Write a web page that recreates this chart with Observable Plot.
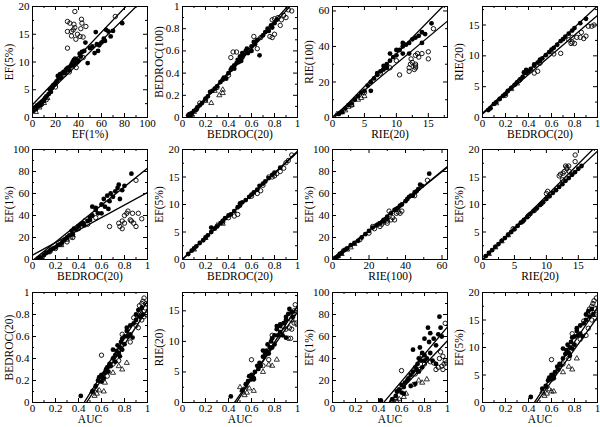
<!DOCTYPE html>
<html><head><meta charset="utf-8">
<script src="https://cdn.jsdelivr.net/npm/d3@7"></script>
<script src="https://cdn.jsdelivr.net/npm/@observablehq/plot@0.6"></script>
<style>
body{margin:0;background:#fff}
#chart{position:relative;width:600px;height:427px;background:#fff;overflow:hidden}
.cell{position:absolute}
</style></head><body><div id="chart"></div>
<script>
// ---- axis labels and ranges ----
const xLabels = ["EF(1%)","BEDROC(20)","RIE(20)","BEDROC(20)","BEDROC(20)","BEDROC(20)","RIE(100)","RIE(20)","AUC","AUC","AUC","AUC"];
const yLabels = ["EF(5%)","BEDROC(100)","RIE(100)","RIE(20)","EF(1%)","EF(5%)","EF(1%)","EF(5%)","BEDROC(20)","RIE(20)","EF(1%)","EF(5%)"];
const xMax = [100,1,18,1,1,1,63,18,1,1,1,1];
const yMax = [20,1,62.5,18,100,20,100,20,1,18,100,20];
const xTickSet = ["t100","t1","t18","t1","t1","t1","t63","t18","t1","t1","t1","t1"];
const yTickSet = ["t20","t1","t63","t18","t100","t20","t100","t20","t1","t18","t100","t20"];
// ---- tick values ----
const t100 = [0,20,40,60,80,100], m100 = [10,30,50,70,90];
const t1 = [0,0.2,0.4,0.6,0.8,1], m1 = [0.1,0.3,0.5,0.7,0.9];
const t18 = [0,5,10,15], m18 = [2.5,7.5,12.5,17.5];
const t20 = [0,5,10,15,20], m20 = [2.5,7.5,12.5,17.5];
const t63 = [0,20,40,60], m63 = [10,30,50];

// ---- panel 1: EF(1%) vs EF(5%) ----
const p1Filled = [[1,1.2],[2,1.8],[3,1.5],[4,2.2],[5,2.0],[6,2.5],[7,2.2],[8,2.8],[10,3.0],[11,3.5],[12,3.8],[14,4.2],[15,5.0],[16,4.6],[17,5.3],[18,5.8],[20,6.0],[21,6.5],[22,7.5],[23,7.0],[24,7.8],[25,7.2],[26,8.0],[27,8.2],[28,8.0],[29,8.6],[30,8.8],[31,9.0],[32,8.5],[33,9.2],[34,9.6],[35,10.0],[35,9.4],[36,10.4],[37,9.8],[37,10.6],[38,10.2],[39,10.0],[40,10.3],[41,11.5],[42,11.0],[43,11.8],[45,12.0],[46,13.5],[48,9.8],[50,12.5],[52,12.8],[54,11.6],[55,15.4],[56,13.2],[57,12.0],[58,13.0],[60,13.5],[62,14.2],[63,13.8],[64,15.8],[66,15.5],[68,14.6],[70,15.6],[78,17.0]];
const p1Open = [[8,2.4],[12,3.2],[20,5.5],[28,7.8],[32,8.2],[38,9.0],[44,10.8],[36.8,19.1],[30.4,17.3],[32.5,17.0],[42.6,17.7],[43,17],[46.4,16.4],[42,16],[30.4,15.5],[33.9,15.5],[36.8,16.2],[35.4,15.8],[33.9,14.7],[39.1,15.0],[41.4,14.6],[37.7,14.1],[30.4,12.5],[72,18.2],[36,16.8],[44,14.5]];
const p1Tri = [[3,1.0],[6,1.8],[10,2.6],[13,3.5],[9,3.0]];
const p1Fits = [[2.3,0.218],[1.6,0.204]];

// ---- panel 2: BEDROC(20) vs BEDROC(100) ----
const p2Filled = [[0.05,0.02],[0.06,0.03],[0.07,0.01],[0.08,0.04],[0.1,0.06],[0.12,0.07],[0.13,0.09],[0.15,0.11],[0.17,0.13],[0.2,0.17],[0.22,0.19],[0.24,0.23],[0.26,0.24],[0.28,0.26],[0.3,0.28],[0.33,0.32],[0.35,0.34],[0.36,0.36],[0.38,0.35],[0.4,0.4],[0.42,0.43],[0.43,0.45],[0.45,0.47],[0.47,0.49],[0.48,0.52],[0.49,0.5],[0.5,0.53],[0.5,0.55],[0.51,0.51],[0.52,0.54],[0.53,0.57],[0.55,0.6],[0.56,0.62],[0.57,0.58],[0.6,0.64],[0.62,0.68],[0.63,0.66],[0.65,0.70],[0.67,0.56],[0.7,0.74],[0.72,0.77],[0.74,0.8],[0.75,0.78],[0.77,0.83],[0.78,0.81],[0.8,0.85],[0.82,0.88],[0.45,0.44],[0.52,0.58],[0.6,0.6]];
const p2Open = [[0.42,0.54],[0.44,0.59],[0.47,0.59],[0.62,0.73],[0.68,0.72],[0.65,0.62],[0.78,0.88],[0.8,0.89],[0.83,0.9],[0.86,0.88],[0.88,0.92],[0.9,0.9],[0.92,0.97],[0.95,0.96],[0.78,0.72],[0.8,0.75],[0.76,0.73],[0.85,0.83],[0.3,0.27],[0.2,0.16],[0.15,0.13],[0.4,0.38]];
const p2Tri = [[0.25,0.13],[0.32,0.2],[0.35,0.22],[0.35,0.25],[0.12,0.08],[0.2,0.15],[0.28,0.24],[0.08,0.03],[0.1,0.05]];
const p2Fits = [[-0.054,1.155],[-0.065,1.14]];

// ---- panel 3: RIE(20) vs RIE(100) ----
const p3Filled = [[1,2],[1.5,3],[2,5],[2.5,7],[3,8],[3.5,10],[4,12],[4.5,14],[5,15],[5.5,18],[6,15],[6,20],[6.5,22],[7,24],[7.5,26],[8,27],[8,29],[8.5,30],[9,32],[9,36],[9.5,34],[10,35],[10,38],[10.5,38],[11,40],[11,42],[11.5,41],[12,42],[12,36],[12.5,44],[13,45],[13.5,46],[14,48],[14.5,47],[15.5,53],[14,42],[11,36],[8.5,28],[7,25]];
const p3Open = [[10.5,24],[12,26],[12,28],[12.2,30],[12.3,33],[12.5,31],[12.8,27],[13,30],[13,35],[13,29],[13.3,36],[13.5,34],[14,36],[15,37],[15,33],[13,28],[15.8,50],[7.5,25],[9,28],[10,32],[5,14],[3,7]];
const p3Tri = [[2.5,6],[3,7],[4.5,11],[4,10],[5,12],[2,4],[1.5,3],[0.7,1.9]];
const p3Fits = [[-1,3.68],[0.3,3.0]];

// ---- panel 4: BEDROC(20) vs RIE(20) ----
const p4Filled = [[0.05,1.2],[0.07,1.5],[0.1,2.2],[0.12,2.5],[0.15,3],[0.18,3.5],[0.2,3.8],[0.22,4.3],[0.25,4.8],[0.28,5.3],[0.3,5.7],[0.33,6.2],[0.35,6.6],[0.38,7.2],[0.4,7.5],[0.42,7.9],[0.45,8.4],[0.48,8.9],[0.5,9.2],[0.52,9.6],[0.55,10.1],[0.58,10.6],[0.6,11],[0.62,11.3],[0.65,11.8],[0.68,12.4],[0.7,12.7],[0.72,13.1],[0.75,13.6],[0.78,14.1],[0.8,14.5],[0.85,15.3],[0.9,16],[0.5,9.4],[0.45,8.6],[0.36,7.3],[0.38,7.7]];
const p4Open = [[0.32,6],[0.45,7.2],[0.48,7.5],[0.62,10.3],[0.68,10.4],[0.77,12],[0.78,12.2],[0.8,12],[0.78,13],[0.82,13],[0.85,13],[0.86,13.8],[0.88,12.8],[0.9,13.2],[0.92,14.8],[0.95,14.8],[0.97,15],[0.75,12.6],[0.5,8.8],[0.2,3.6]];
const p4Tri = [[0.25,4.6],[0.3,5.5],[0.12,2.3]];
const p4Fits = [[0.7,17.4],[0.55,16.0]];

// ---- panel 5: BEDROC(20) vs EF(1%) ----
const p5Filled = [[0.05,1],[0.07,2],[0.08,0],[0.1,4],[0.12,6],[0.14,7],[0.16,9],[0.18,10],[0.2,11],[0.22,13],[0.24,14],[0.26,16],[0.28,18],[0.3,20],[0.32,22],[0.34,26],[0.35,23],[0.36,28],[0.38,27],[0.4,30],[0.42,32],[0.44,33],[0.45,31],[0.48,35],[0.5,38],[0.5,36],[0.52,40],[0.52,48],[0.55,45],[0.57,42],[0.6,50],[0.62,55],[0.63,48],[0.65,58],[0.67,53],[0.68,60],[0.7,57],[0.72,62],[0.74,65],[0.75,68],[0.76,55],[0.78,63],[0.8,67],[0.86,78],[0.55,47],[0.6,42],[0.66,46]];
const p5Open = [[0.67,30],[0.75,33],[0.76,30],[0.78,28],[0.78,35],[0.8,40],[0.8,33],[0.82,42],[0.83,44],[0.85,36],[0.86,35],[0.87,42],[0.88,33],[0.9,30],[0.92,42],[0.95,37],[0.9,72],[0.1,5],[0.15,7],[0.2,10],[0.25,14],[0.3,16],[0.35,20],[0.4,28],[0.48,32],[0.55,38]];
const p5Tri = [[0.3,18],[0.33,20],[0.35,22],[0.25,13],[0.15,8],[0.45,35]];
const p5Fits = [[-1,84],[4,57]];

// ---- panel 6: BEDROC(20) vs EF(5%) ----
const p6Filled = [[0.05,1],[0.08,1.6],[0.1,2],[0.12,2.4],[0.15,3],[0.18,3.5],[0.2,4],[0.22,4.4],[0.25,5],[0.25,5.8],[0.28,5.6],[0.3,6],[0.33,6.6],[0.35,7],[0.37,7.5],[0.4,8],[0.42,8.2],[0.45,8.8],[0.48,9.5],[0.5,9.8],[0.5,10.2],[0.52,10.4],[0.55,10.8],[0.58,11.4],[0.6,11.8],[0.62,12.2],[0.65,12.7],[0.67,13.4],[0.7,13.8],[0.72,14.2],[0.75,14.8],[0.78,15.4],[0.8,15.8],[0.85,16.7]];
const p6Open = [[0.35,6.8],[0.4,7.6],[0.45,7.9],[0.48,8.2],[0.6,11.5],[0.65,12],[0.68,12.5],[0.75,15],[0.8,15.2],[0.82,15.6],[0.85,16],[0.88,16.6],[0.9,17.6],[0.92,18],[0.95,19],[0.78,15],[0.7,13.5]];
const p6Tri = [[0.1,1.8],[0.2,3.9],[0.3,6.2],[0.35,6.5]];
const p6Fits = [[0,19.7],[0.1,19.4]];

// ---- panel 7: RIE(100) vs EF(1%) ----
const p7Filled = [[1,1],[2,2],[3,3],[4,5],[5,6],[6,8],[7,9],[8,10],[10,13],[12,15],[14,17],[16,20],[18,23],[20,26],[22,29],[24,31],[26,33],[28,36],[30,39],[32,42],[34,45],[36,47],[37,49],[38,50],[40,53],[41,55],[42,57],[43,58],[44,58],[45,61],[46,62],[47,64],[48,68],[49,67],[53,78],[28,35],[30,37],[35,46]];
const p7Open = [[22,30],[23,28],[25,32],[26,30],[27,32],[28,34],[30,35],[31,44],[32,36],[33,38],[34,36],[35,42],[36,43],[37,42],[38,44],[30,33],[52,72],[45,58],[20,24],[15,18]];
const p7Tri = [[3,3],[5,5],[8,9],[10,11],[12,14]];
const p7Fits = [[-0.5,1.34],[-1,1.36]];

// ---- panel 8: RIE(20) vs EF(5%) ----
const p8Filled = [[0.5,0.6],[1,1.2],[1.5,1.7],[2,2.3],[2.5,2.8],[3,3.4],[3.5,3.9],[4,4.5],[4.5,5],[5,5.5],[5.5,6.1],[6,6.7],[6.5,7.2],[7,7.7],[7.5,8.3],[8,8.8],[8.5,9.3],[9,9.9],[9.5,10.4],[10,11],[10.5,11.5],[11,12.1],[11.5,12.6],[12,13.2],[12.5,13.7],[13,14.3],[13.5,14.8],[14,15.4],[14.5,15.9],[15,16.5],[15.5,17],[9.2,10.1],[6.3,6.9]];
const p8Open = [[4.8,5.6],[7.2,8],[8.2,9],[10,12],[10.2,12.4],[12,15.2],[12.2,15.5],[12.5,14.5],[12.8,16],[13,17],[13.2,16.5],[13.5,17],[13.6,16],[14,15.5],[14.5,19],[14.5,17.8],[13.2,16.8],[12.6,15.7]];
const p8Tri = [[1,1],[2,2.2],[3,3.3],[4,4.4]];
const p8Fits = [[-0.1,1.165],[0,1.095]];

// ---- panel 9: AUC vs BEDROC(20) ----
const p9Filled = [[0.42,0.06],[0.52,0.1],[0.55,0.15],[0.57,0.2],[0.58,0.23],[0.6,0.25],[0.6,0.19],[0.62,0.22],[0.63,0.27],[0.65,0.32],[0.66,0.28],[0.67,0.35],[0.68,0.33],[0.7,0.4],[0.7,0.48],[0.72,0.43],[0.73,0.47],[0.74,0.52],[0.75,0.45],[0.76,0.5],[0.77,0.55],[0.78,0.48],[0.78,0.58],[0.8,0.6],[0.8,0.53],[0.82,0.65],[0.82,0.68],[0.83,0.6],[0.85,0.62],[0.85,0.7],[0.87,0.59],[0.88,0.72],[0.9,0.75],[0.9,0.8],[0.92,0.84],[0.93,0.78],[0.95,0.86],[0.96,0.8],[0.6,0.24],[0.64,0.3],[0.72,0.37],[0.76,0.42]];
const p9Open = [[0.6,0.43],[0.78,0.62],[0.88,0.77],[0.9,0.7],[0.92,0.68],[0.93,0.88],[0.95,0.9],[0.96,0.92],[0.97,0.95],[0.98,0.86],[0.99,0.9],[0.97,0.78],[0.99,0.8],[0.95,0.75],[0.94,0.82],[0.85,0.55],[0.7,0.35],[0.75,0.38],[0.65,0.24]];
const p9Tri = [[0.52,0.1],[0.55,0.12],[0.58,0.11],[0.62,0.1],[0.56,0.08],[0.54,0.06],[0.78,0.3],[0.82,0.36],[0.7,0.27],[0.75,0.33],[0.63,0.18]];
const p9Fits = [[-0.75,1.67],[-0.752,1.6]];

// ---- panel 10: AUC vs RIE(20) ----
const p10Filled = [[0.42,1],[0.52,2],[0.55,3],[0.57,3.5],[0.58,4.3],[0.6,4.5],[0.6,3.8],[0.62,4],[0.63,5],[0.65,6],[0.66,5.5],[0.67,6.5],[0.68,6],[0.7,7.5],[0.7,8.5],[0.72,8],[0.73,8.5],[0.74,9.5],[0.75,8],[0.76,9],[0.77,10],[0.78,9],[0.78,10.5],[0.8,11],[0.8,9.5],[0.82,12],[0.82,12.5],[0.83,11],[0.85,11.5],[0.85,12.8],[0.87,11],[0.88,13],[0.9,13.5],[0.9,14],[0.92,14.5],[0.93,15.3],[0.95,14.8],[0.96,14],[0.62,3.8],[0.85,12.5],[0.9,10.6]];
const p10Open = [[0.6,7],[0.78,11],[0.88,12.4],[0.9,12],[0.92,10.5],[0.93,12.2],[0.95,13.5],[0.96,14.5],[0.97,15],[0.98,16],[0.99,15],[0.97,13],[0.99,13],[0.95,12],[0.85,12],[0.7,6],[0.75,7],[0.94,10.5]];
const p10Tri = [[0.52,2],[0.55,2.6],[0.58,2.3],[0.62,1.9],[0.56,1.6],[0.54,1.2],[0.78,6],[0.82,7],[0.7,5],[0.75,6.2],[0.5,2.5]];
const p10Fits = [[-12.2,27],[-14,29.8]];

// ---- panel 11: AUC vs EF(1%) ----
const p11Filled = [[0.42,2],[0.52,3],[0.55,6],[0.56,10],[0.58,12],[0.6,16],[0.6,9],[0.62,14],[0.63,18],[0.65,20],[0.66,22],[0.68,25],[0.7,28],[0.7,48],[0.72,32],[0.72,17],[0.73,30],[0.74,35],[0.75,28],[0.76,50],[0.77,38],[0.78,32],[0.78,45],[0.8,43],[0.8,58],[0.82,40],[0.83,68],[0.84,55],[0.85,63],[0.85,45],[0.87,38],[0.88,58],[0.9,52],[0.9,35],[0.92,62],[0.93,78],[0.94,68],[0.95,60],[0.62,8],[0.68,15],[0.75,40],[0.8,38]];
const p11Open = [[0.6,29],[0.78,43],[0.8,35],[0.85,37],[0.88,36],[0.9,30],[0.92,32],[0.93,40],[0.95,33],[0.96,30],[0.97,35],[0.98,38],[0.99,36],[0.96,42],[0.98,72],[0.94,46],[0.72,26],[0.76,30]];
const p11Tri = [[0.52,2],[0.55,4],[0.58,3],[0.62,5],[0.56,1],[0.54,0],[0.78,18],[0.82,21],[0.7,16],[0.75,20],[0.64,8]];
const p11Fits = [[-55.2,124],[-53.9,110]];

// ---- panel 12: AUC vs EF(5%) ----
const p12Filled = [[0.42,1],[0.52,2.5],[0.55,3],[0.57,4],[0.58,4.5],[0.6,5],[0.6,4.2],[0.62,4.8],[0.63,5.5],[0.65,6.5],[0.66,6],[0.67,7],[0.68,6.8],[0.7,8],[0.7,9.8],[0.72,8.8],[0.73,9.5],[0.74,10.5],[0.75,9],[0.76,10],[0.77,11],[0.78,9.8],[0.78,11.8],[0.8,12],[0.8,10.5],[0.82,13],[0.82,13.5],[0.83,12.2],[0.85,12.5],[0.85,14],[0.87,12],[0.88,14.4],[0.9,15],[0.9,16],[0.92,16.6],[0.93,15.6],[0.95,17],[0.96,16],[0.62,4.4],[0.76,8.5]];
const p12Open = [[0.6,7.8],[0.78,12.5],[0.88,14.8],[0.9,12.2],[0.92,13.5],[0.93,17],[0.95,17.5],[0.96,18],[0.97,18.5],[0.98,17],[0.99,19],[0.97,16],[0.99,16],[0.95,15],[0.94,16.5],[0.85,11.5],[0.7,7],[0.75,8]];
const p12Tri = [[0.52,2],[0.55,2.8],[0.58,2.4],[0.62,2],[0.56,1.6],[0.54,1.2],[0.78,6],[0.82,8],[0.7,5.5],[0.75,6.5],[0.6,2]];
const p12Fits = [[-14.2,31.5],[-13.7,29.2]];

// ---- assemble ----
const filledSets = [p1Filled,p2Filled,p3Filled,p4Filled,p5Filled,p6Filled,p7Filled,p8Filled,p9Filled,p10Filled,p11Filled,p12Filled];
const openSets = [p1Open,p2Open,p3Open,p4Open,p5Open,p6Open,p7Open,p8Open,p9Open,p10Open,p11Open,p12Open];
const triSets = [p1Tri,p2Tri,p3Tri,p4Tri,p5Tri,p6Tri,p7Tri,p8Tri,p9Tri,p10Tri,p11Tri,p12Tri];
const fitSets = [p1Fits,p2Fits,p3Fits,p4Fits,p5Fits,p6Fits,p7Fits,p8Fits,p9Fits,p10Fits,p11Fits,p12Fits];
const tickTable = {t100:[t100,m100], t1:[t1,m1], t18:[t18,m18], t20:[t20,m20], t63:[t63,m63]};

const rowTop = [0,142,284];
const chart = document.getElementById("chart");
const font = "'Liberation Serif','Times New Roman',serif";

for (let i = 0; i < 12; i++) {
  const row = Math.floor(i / 4), col = i % 4;
  const W = 150, H = row === 2 ? 143 : 142;
  const mt = [6,7,8][row], mb = 25, ml = 32, mr = 3;
  const iw = W - ml - mr, ih = H - mt - mb;
  const [xt, xm] = tickTable[xTickSet[i]];
  const [yt, ym] = tickTable[yTickSet[i]];
  const fitPts = fitSets[i].flatMap(([a, b], k) => [0, xMax[i]].map(x => ({x, y: a + b * x, k})));
  const P = d => d[0], Q = d => d[1];
  const plot = Plot.plot({
    width: W, height: H, marginTop: mt, marginBottom: mb, marginLeft: ml, marginRight: mr,
    style: {fontFamily: font, fontSize: "11px", background: "transparent", overflow: "visible", color: "black"},
    x: {domain: [0, xMax[i]]},
    y: {domain: [0, yMax[i]]},
    marks: [
      Plot.dot(filledSets[i], {x: P, y: Q, r: 2.4, fill: "black", stroke: "none", clip: true}),
      Plot.dot(openSets[i], {x: P, y: Q, r: 2.2, fill: "none", stroke: "black", strokeWidth: 0.9, clip: true}),
      Plot.dot(triSets[i], {x: P, y: Q, r: 1.9, symbol: "triangle", fill: "none", stroke: "black", strokeWidth: 0.8, clip: true}),
      Plot.line(fitPts, {x: "x", y: "y", z: "k", stroke: "black", strokeWidth: 1.3, clip: true}),
      Plot.ruleX(xt, {x: d => d, insetTop: ih - 4, stroke: "black"}),
      Plot.ruleX(xt, {x: d => d, insetBottom: ih - 4, stroke: "black"}),
      Plot.ruleX(xm, {x: d => d, insetTop: ih - 2, stroke: "black"}),
      Plot.ruleX(xm, {x: d => d, insetBottom: ih - 2, stroke: "black"}),
      Plot.ruleY(yt, {y: d => d, insetRight: iw - 4, stroke: "black"}),
      Plot.ruleY(yt, {y: d => d, insetLeft: iw - 4, stroke: "black"}),
      Plot.ruleY(ym, {y: d => d, insetRight: iw - 2, stroke: "black"}),
      Plot.ruleY(ym, {y: d => d, insetLeft: iw - 2, stroke: "black"}),
      Plot.frame({stroke: "black", strokeWidth: 1}),
      Plot.axisX({ticks: xt, tickSize: 0, tickPadding: 2, tickFormat: d => String(d), label: null}),
      Plot.axisY({ticks: yt, tickSize: 0, tickPadding: 3, tickFormat: d => String(d), label: null}),
      Plot.text([xLabels[i]], {frameAnchor: "bottom", lineAnchor: "middle", textAnchor: "middle", dy: 17, text: d => d, fill: "black", fontSize: 11.5}),
      Plot.text([yLabels[i]], {frameAnchor: "left", lineAnchor: "middle", textAnchor: "middle", dx: -23, rotate: -90, text: d => d, fill: "black", fontSize: 11.5})
    ]
  });
  const cell = document.createElement("div");
  cell.className = "cell";
  cell.style.left = (col * 150) + "px";
  cell.style.top = rowTop[row] + "px";
  cell.appendChild(plot);
  chart.appendChild(cell);
}
</script></body></html>
